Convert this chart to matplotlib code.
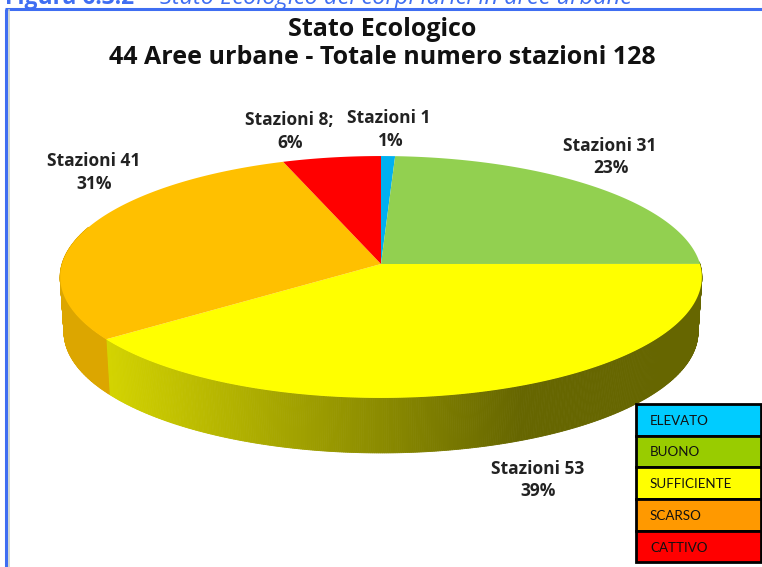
import matplotlib
matplotlib.use("Agg")
import matplotlib.pyplot as plt
import numpy as np
from matplotlib.patches import Polygon, Rectangle

plt.rcParams['font.family'] = ['Open Sans', 'DejaVu Sans']

# slices, clockwise from 12 o'clock
stations = [1, 31, 53, 41, 8]
percent = [1, 23, 39, 31, 6]
slice_colors = ["#00b0f0", "#92d050", "#ffff00", "#ffc000", "#ff0000"]
side_colors = ["#0090c8", "#6f9e3c", "#d4d400", "#dca600", "#c80000"]

legend_names = ["ELEVATO", "BUONO", "SUFFICIENTE", "SCARSO", "CATTIVO"]
legend_colors = ["#00ccff", "#99cc00", "#ffff00", "#ff9900", "#ff0000"]

title_lines = ["Stato Ecologico", "44 Aree urbane - Totale numero stazioni 128"]

# pie geometry in picture pixels
CX, CY, R = 381, 264, 319
A, C = 91.2, -0.1074   # perspective
DEPTH = 55


def warp(theta):
    # excel's 3d view shifts the slice edges a few degrees
    return theta + np.interp(theta, [0, 86, 228, 338, 360], [0, 4, 5.5, 1.8, 0])


def project(theta):
    t = np.radians(warp(np.asarray(theta, dtype=float)))
    u, v = np.sin(t), -np.cos(t)
    d = 1 + C * v
    return CX + R * u / d, (A * v + CY) / d


fig = plt.figure(figsize=(7.62, 5.67), dpi=100)
ax = fig.add_axes([0, 0, 1, 1])
ax.set_xlim(0, 762)
ax.set_ylim(567, 0)
ax.axis("off")

# frame
ax.plot([6, 6], [567, 8.5], color="#3f6ef2", lw=2.2, solid_capstyle="butt")
ax.plot([5, 762], [8.5, 8.5], color="#3f6ef2", lw=2.2, solid_capstyle="butt")
ax.plot([8.8, 8.8], [567, 10], color="#c8d2cc", lw=1.2)
ax.text(5, 4, "Figura 6.3.2", color="#3f6ef2", fontsize=16.5, fontweight="bold", ha="left", va="baseline")
ax.text(147, 4, "-", color="#3f6ef2", fontsize=16.5, ha="left", va="baseline")
ax.text(160, 4, "Stato Ecologico dei corpi idrici in aree urbane", color="#3f6ef2",
        fontsize=17, style="italic", ha="left", va="baseline")

edges = np.cumsum([0] + stations) / sum(stations) * 360

# side wall, thin strips so the shading can follow x
for i in range(len(stations)):
    a0, a1 = max(edges[i], 85), min(edges[i + 1], 285)
    if a1 <= a0:
        continue
    th = np.linspace(a0, a1, int((a1 - a0) * 3) + 2)
    x, y = project(th)
    xb = CX + (x - CX) * 0.988
    yb = y + DEPTH
    for j in range(len(th) - 1):
        if i == 2:
            mx = (x[j] + x[j + 1]) / 2
            g = np.interp(mx, [106, 520], [0.83, 0.40])
            col = (g, g, 0)
        else:
            col = side_colors[i]
        ax.add_patch(Polygon([(x[j], y[j]), (x[j + 1], y[j + 1]), (xb[j + 1], yb[j + 1]), (xb[j], yb[j])],
                             closed=True, facecolor=col, edgecolor=col, lw=0.6))

# top face
for i in range(len(stations)):
    th = np.linspace(edges[i], edges[i + 1], 200)
    x, y = project(th)
    pts = np.column_stack([np.r_[CX, x], np.r_[CY, y]])
    ax.add_patch(Polygon(pts, closed=True, facecolor=slice_colors[i], edgecolor="none", zorder=3))

# titles
ax.text(382, 29, title_lines[0], fontsize=18, fontweight="bold", color="#111111", ha="center", va="center")
ax.text(382, 57, title_lines[1], fontsize=18, fontweight="bold", color="#111111", ha="center", va="center")

# slice labels: order matches stations
label_pos = [(389, 118), (610, 146), (538, 469), (94, 161), (289, 120)]
label_pos2 = [(391, 141), (611, 168), (538, 491), (94, 184), (290, 143)]
for i, n in enumerate(stations):
    sep = ";" if i == 4 else ""
    ax.text(*label_pos[i], "Stazioni %d%s" % (n, sep), fontsize=12.5, fontweight="bold",
            color="#222222", ha="center", va="center")
    ax.text(*label_pos2[i], "%d%%" % percent[i], fontsize=12.5, fontweight="bold",
            color="#222222", ha="center", va="center")

# legend
row_y = [404, 436, 467, 499, 531, 562]
for i, name in enumerate(legend_names):
    ax.add_patch(Rectangle((636, row_y[i]), 125, row_y[i + 1] - row_y[i], facecolor=legend_colors[i],
                           edgecolor="black", lw=2, zorder=5))
    ax.text(650, (row_y[i] + row_y[i + 1]) / 2 + 1, name, fontsize=9.6, color="#111111",
            ha="left", va="center", zorder=6, family="Lato")

fig.savefig("out.png", dpi=100)
